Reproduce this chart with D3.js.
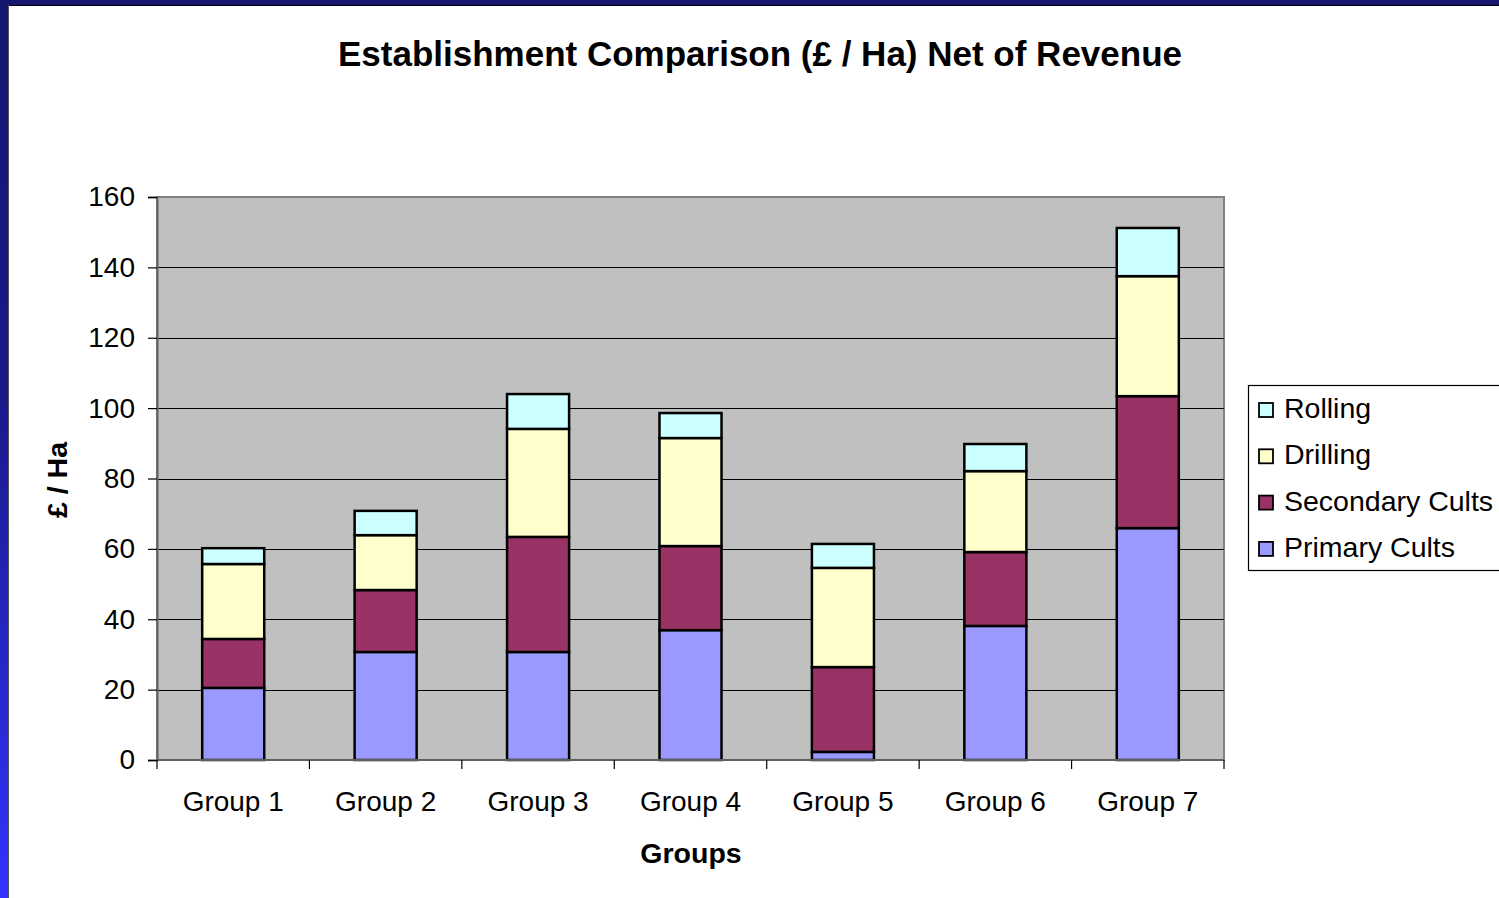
<!DOCTYPE html>
<html>
<head>
<meta charset="utf-8">
<script src="https://cdn.jsdelivr.net/npm/d3@7"></script>
<style>
  html, body { margin: 0; padding: 0; background: #fff; }
  svg { display: block; font-family: "Liberation Sans", Arial, sans-serif; }
</style>
</head>
<body>
<svg id="canvas"></svg>
<script>
// chart data
let groups = ["Group 1", "Group 2", "Group 3", "Group 4", "Group 5", "Group 6", "Group 7"];
let primaryCults = [20.5, 30.7, 30.7, 36.9, 2.3, 38.1, 65.9];
let secondaryCults = [13.9, 17.6, 32.7, 23.9, 24.1, 21.0, 37.5];
let drilling = [21.3, 15.6, 30.7, 30.7, 28.2, 23.0, 34.1];
let rolling = [4.5, 6.9, 9.9, 7.1, 6.8, 7.7, 13.7];
let seriesNames = ["Primary Cults", "Secondary Cults", "Drilling", "Rolling"];
let yTicks = [0, 20, 40, 60, 80, 100, 120, 140, 160];

let width = 1499;
let height = 898;
let colors = ["#9999ff", "#993366", "#ffffcc", "#ccffff"];

let canvas = d3.select('#canvas');
canvas.attr('width', width);
canvas.attr('height', height);

// slide frame
let defs = canvas.append("defs");
let grad = defs.append("linearGradient").attr("id", "sideGrad")
    .attr("x1", 0).attr("y1", 0).attr("x2", 0).attr("y2", 1);
grad.append("stop").attr("offset", "0%").attr("stop-color", "#15166f");
grad.append("stop").attr("offset", "45%").attr("stop-color", "#1a1a8c");
grad.append("stop").attr("offset", "100%").attr("stop-color", "#3333ff");

canvas.append("rect").attr("x", 0).attr("y", 0).attr("width", width).attr("height", 5).attr("fill", "#15166f");
canvas.append("rect").attr("x", 0).attr("y", 0).attr("width", 8).attr("height", height).attr("fill", "url(#sideGrad)");
canvas.append("line").attr("x1", 8).attr("x2", width).attr("y1", 5.5).attr("y2", 5.5).attr("stroke", "#000").attr("stroke-width", 1);
canvas.append("line").attr("x1", 8.5).attr("x2", 8.5).attr("y1", 5).attr("y2", height).attr("stroke", "#555").attr("stroke-width", 1);

// scales
let plot = { left: 157, right: 1224, top: 197, bottom: 760 };

let xScale = d3.scaleBand()
    .domain(groups)
    .range([plot.left, plot.right])
    .paddingInner(0.593)
    .paddingOuter(0.2965);

let xBand = d3.scaleBand().domain(groups).range([plot.left, plot.right]);

let yScale = d3.scaleLinear()
    .domain([0, 160])
    .range([plot.bottom, plot.top]);

// plot area
canvas.append("rect")
    .attr("x", plot.left).attr("y", plot.top)
    .attr("width", plot.right - plot.left).attr("height", plot.bottom - plot.top)
    .attr("fill", "#c0c0c0")
    .attr("stroke", "#808080").attr("stroke-width", 2);

// gridlines
canvas.append("g").selectAll("line")
    .data(yTicks.filter(d => d > 0 && d < 160))
    .enter().append("line")
    .attr("x1", plot.left).attr("x2", plot.right)
    .attr("y1", d => Math.round(yScale(d)) + 0.5).attr("y2", d => Math.round(yScale(d)) + 0.5)
    .attr("stroke", "#000").attr("stroke-width", 1.2);

// stacked bars
let table = groups.map((g, i) => ({
    group: g,
    "Primary Cults": primaryCults[i],
    "Secondary Cults": secondaryCults[i],
    "Drilling": drilling[i],
    "Rolling": rolling[i]
}));
let stacked = d3.stack().keys(seriesNames)(table);

canvas.append("g").selectAll("g")
    .data(stacked)
    .enter().append("g")
    .attr("fill", (d, i) => colors[i])
    .selectAll("rect")
    .data(d => d)
    .enter().append("rect")
    .attr("x", d => xScale(d.data.group))
    .attr("y", d => yScale(d[1]))
    .attr("width", xScale.bandwidth())
    .attr("height", d => yScale(d[0]) - yScale(d[1]))
    .attr("stroke", "#000")
    .attr("stroke-width", 2.5);

// y axis
let yAxis = d3.axisLeft(yScale).tickValues(yTicks).tickSize(9).tickPadding(13);
let yg = canvas.append("g")
    .attr("transform", `translate(${plot.left}, 0)`)
    .call(yAxis);
yg.select(".domain").attr("stroke", "#606060").attr("stroke-width", 2);
yg.selectAll(".tick line").attr("stroke", "#000").attr("stroke-width", 1.2);
yg.selectAll(".tick text").attr("font-size", 28).attr("fill", "#000")
    .attr("font-family", "'Liberation Sans', Arial, sans-serif");

// x axis: ticks between categories
let xg = canvas.append("g")
    .attr("transform", `translate(0, ${plot.bottom})`);
xg.append("line").attr("x1", plot.left).attr("x2", plot.right)
    .attr("y1", 0).attr("y2", 0).attr("stroke", "#606060").attr("stroke-width", 2);
let bounds = groups.map(g => xBand(g)).concat([plot.right]);
xg.selectAll(".xt").data(bounds).enter().append("line")
    .attr("x1", d => d).attr("x2", d => d).attr("y1", 0).attr("y2", 9)
    .attr("stroke", "#000").attr("stroke-width", 1.2);
xg.selectAll(".xl").data(groups).enter().append("text")
    .attr("x", d => xBand(d) + xBand.bandwidth() / 2)
    .attr("y", 51)
    .attr("text-anchor", "middle")
    .attr("font-size", 28)
    .text(d => d);

// titles
canvas.append("text")
    .attr("x", 760).attr("y", 66)
    .attr("text-anchor", "middle")
    .attr("font-size", 35).attr("font-weight", "bold")
    .text("Establishment Comparison (£ / Ha) Net of Revenue");

canvas.append("text")
    .attr("x", 691).attr("y", 863)
    .attr("text-anchor", "middle")
    .attr("font-size", 28.5).attr("font-weight", "bold")
    .text("Groups");

canvas.append("text")
    .attr("transform", "translate(67, 480) rotate(-90)")
    .attr("text-anchor", "middle")
    .attr("font-size", 28.5).attr("font-weight", "bold")
    .text("£ / Ha");

// legend
let legend = canvas.append("g");
legend.append("rect")
    .attr("x", 1248.5).attr("y", 385.5)
    .attr("width", 270).attr("height", 185)
    .attr("fill", "#fff").attr("stroke", "#000").attr("stroke-width", 1.2);

let legendOrder = seriesNames.slice().reverse();
let legendItems = legend.selectAll(".li")
    .data(legendOrder)
    .enter().append("g")
    .attr("transform", (d, i) => `translate(1259, ${403 + i * 46.3})`);
legendItems.append("rect")
    .attr("width", 14).attr("height", 14)
    .attr("fill", d => colors[seriesNames.indexOf(d)])
    .attr("stroke", "#000").attr("stroke-width", 1.8);
legendItems.append("text")
    .attr("x", 25).attr("y", 15)
    .attr("font-size", 28.5)
    .text(d => d);
</script>
</body>
</html>
